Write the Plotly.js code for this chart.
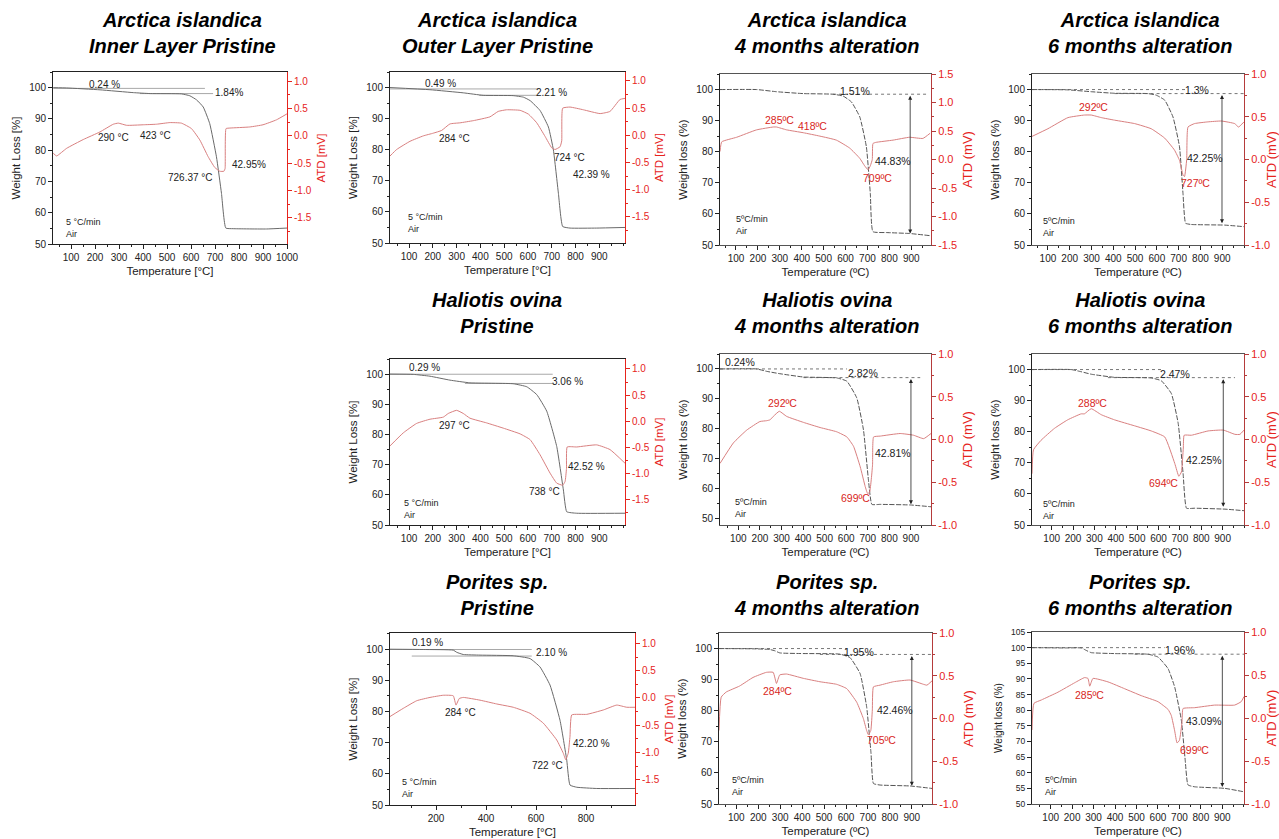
<!DOCTYPE html>
<html><head><meta charset="utf-8">
<script src="https://cdn.plot.ly/plotly-3.0.1.min.js"></script>
<style>html,body{margin:0;padding:0;background:#fff}#chart{width:1279px;height:839px}</style>
</head><body><div id="chart"></div>
<script>
// ---------- tick values ----------
const tempTicks = [100,200,300,400,500,600,700,800,900];
const tempTicks1000 = [100,200,300,400,500,600,700,800,900,1000];
const tempTicks200 = [200,400,600,800];
const wlTicks10 = [50,60,70,80,90,100];
const wlTicks5 = [50,55,60,65,70,75,80,85,90,95,100,105];
const atdTicksWide = [-1.5,-1,-0.5,0,0.5,1];
const atdTicks15 = [-1.5,-1,-0.5,0,0.5,1,1.5];
const atdTicks1 = [-1,-0.5,0,0.5,1];

// ---------- P1 Arctica islandica inner layer pristine ----------
const p1TgT = [26,82,221,360,430,560,595,623,651,678,706,727,745,775,914,1000];
const p1Tg  = [100,99.9,99.3,98.4,98.1,98,97.4,96.1,93.8,88.5,77.9,66.2,55.1,54.9,54.8,55.1];
const p1DtaT = [26,40,82,151,221,276,297,332,401,456,512,560,602,637,671,699,720,737,742,746,762,845,900,956,1000];
const p1Dta  = [-0.32,-0.37,-0.23,-0.07,0.07,0.21,0.23,0.19,0.2,0.21,0.24,0.23,0.13,-0.08,-0.38,-0.58,-0.65,-0.65,-0.6,0.13,0.14,0.16,0.2,0.29,0.4];
const p1RefFrom = [26,387], p1RefTo = [658,692], p1RefLevel = [99.76,98.1];
const p1Labels = ['0.24 %','1.84%','290 °C','423 °C','726.37 °C','42.95%'];

// ---------- P2 Arctica islandica outer layer pristine ----------
const p2TgT = [20,188,328,412,538,581,609,651,686,707,728,746,777,889,1008];
const p2Tg  = [100,99.3,98.3,97.5,97.4,96.9,95.8,92.6,87.3,79.9,66,55.3,54.8,54.8,55];
const p2DtaT = [20,48,104,160,202,237,272,314,370,440,475,510,567,602,637,672,700,714,735,742,746,777,833,903,945,987,1008];
const p2Dta  = [-0.38,-0.26,-0.11,-0.01,0.04,0.09,0.21,0.23,0.27,0.34,0.44,0.47,0.46,0.39,0.23,-0.02,-0.23,-0.26,-0.21,-0.1,0.5,0.52,0.47,0.4,0.44,0.66,0.68];
const p2RefFrom = [20,395], p2RefTo = [644,644], p2RefLevel = [99.55,97.5];
const p2Labels = ['0.49 %','2.21 %','284 °C','724 °C','42.39 %'];

// ---------- P3 Arctica islandica 4 months ----------
const p3TgT = [27,194,285,407,543,589,627,665,695,713,725,786,892,986];
const p3Tg  = [100,100,99.3,98.7,98.5,97.9,96,91.2,81.6,66.6,54.3,54,53.7,53];
const p3DtaT = [27,35,103,194,270,285,331,407,483,558,619,665,687,703,713,722,725,738,817,892,953,986];
const p3Dta  = [0.14,0.31,0.39,0.52,0.57,0.57,0.52,0.47,0.41,0.34,0.2,0.02,-0.11,-0.18,-0.11,0,0.28,0.3,0.34,0.39,0.37,0.46];
const p3RefFrom = [543], p3RefTo = [968], p3RefLevel = [98.5];
const p3Arrow = [895,98.5,53.7];
const p3Labels = ['1.51%','285ºC','418ºC','709ºC','44.83%'];

// ---------- P4 Arctica islandica 6 months ----------
const p4TgT = [27,192,299,406,559,597,636,674,704,720,732,758,911,1000];
const p4Tg  = [100,99.9,99.3,98.8,98.7,98.2,96.6,91.2,81.6,66.6,57,56.6,56.4,55.9];
const p4DtaT = [27,100,192,268,299,345,406,498,574,636,681,704,720,727,737,743,773,834,896,957,975,1000];
const p4Dta  = [0.27,0.36,0.49,0.52,0.52,0.49,0.46,0.42,0.36,0.25,0.11,-0.01,-0.18,-0.2,0,0.38,0.42,0.44,0.45,0.42,0.38,0.44];
const p4RefFrom = [27,406], p4RefTo = [743,1000], p4RefLevel = [100,98.7];
const p4Arrow = [899,98.7,57];
const p4Labels = ['1.3%','292ºC','727ºC','42.25%'];

// ---------- P5 Haliotis ovina pristine ----------
const p5TgT = [20,118,188,272,356,538,595,637,679,721,749,763,805,1008];
const p5Tg  = [100,99.9,99.3,98,97.1,96.8,95.8,93.2,87.7,76,61.6,54.4,53.9,53.9];
const p5DtaT = [20,76,132,188,244,265,300,328,356,426,496,567,609,651,693,721,746,756,762,765,805,889,945,1008];
const p5Dta  = [-0.47,-0.22,-0.04,0.04,0.08,0.15,0.21,0.15,0.06,-0.03,-0.13,-0.24,-0.35,-0.64,-0.99,-1.18,-1.22,-1.15,-0.9,-0.49,-0.49,-0.45,-0.54,-0.8];
const p5RefFrom = [20,335], p5RefTo = [704,704], p5RefLevel = [99.95,96.9];
const p5Labels = ['0.29 %','3.06 %','297 °C','738 °C','42.52 %'];

// ---------- P6 Haliotis ovina 4 months ----------
const p6TgT = [15,185,231,293,402,556,603,649,680,703,719,758,897,993];
const p6Tg  = [100,100,99.2,98.4,97.3,97,95.9,90.3,79.6,62.9,54.7,54.7,54.5,53.9];
const p6DtaT = [15,77,139,200,231,247,262,290,324,402,479,556,603,634,665,688,699,708,722,727,758,850,912,959,993];
const p6Dta  = [-0.28,-0.04,0.11,0.21,0.22,0.23,0.27,0.33,0.27,0.2,0.14,0.09,0.03,-0.08,-0.32,-0.55,-0.63,-0.62,-0.3,0.03,0.04,0.07,0.05,0.01,0.07];
const p6RefFrom = [15,402], p6RefTo = [603,943], p6RefLevel = [100,97.1];
const p6Arrow = [900,97.1,54.7];
const p6Labels = ['0.24%','2.82%','292ºC','699ºC','42.81%'];

// ---------- P7 Haliotis ovina 6 months ----------
const p7TgT = [8,191,238,285,394,566,613,660,692,715,731,770,911,1000];
const p7Tg  = [100,100,99.3,98.5,97.5,97.3,96.4,92.3,82.7,66.6,55.4,55.4,55.1,54.6];
const p7DtaT = [8,15,50,113,175,238,253,285,332,394,488,566,629,676,695,707,716,720,754,832,903,958,981,1000];
const p7Dta  = [-0.4,-0.12,-0.01,0.13,0.23,0.3,0.3,0.36,0.29,0.23,0.16,0.1,0.03,-0.28,-0.43,-0.38,-0.1,0.05,0.05,0.1,0.11,0.06,0.06,0.11];
const p7RefFrom = [8,363], p7RefTo = [613,958], p7RefLevel = [100,97.4];
const p7Arrow = [903,97.4,55.9];
const p7Labels = ['2.47%','288ºC','694ºC','42.25%'];

// ---------- P8 Porites sp. pristine ----------
const p8TgT = [16,149,269,283,309,376,509,576,616,656,696,723,736,763,843,996];
const p8Tg  = [100,99.9,99.7,99,98.3,98.1,97.9,97,94.3,88.5,77.2,64.4,56.4,55.7,55.3,55.3];
const p8DtaT = [16,69,123,176,229,269,280,293,309,376,443,509,576,629,683,709,719,729,736,743,803,869,923,963,996];
const p8Dta  = [-0.34,-0.19,-0.05,0.01,0.05,0.04,-0.13,-0.01,0.01,-0.04,-0.11,-0.17,-0.28,-0.46,-0.77,-1.01,-1.13,-1.01,-0.7,-0.31,-0.3,-0.22,-0.13,-0.17,-0.17];
const p8RefFrom = [16,103], p8RefTo = [583,583], p8RefLevel = [99.9,97.8];
const p8Labels = ['0.19 %','2.10 %','284 °C','722 °C','42.20 %'];

// ---------- P9 Porites sp. 4 months ----------
const p9TgT = [21,191,252,275,298,390,572,618,664,694,714,725,755,892,992];
const p9Tg  = [100,99.9,99.7,99.3,98.6,98.4,98.2,97.1,92,81.3,66.3,56.6,56.1,55.8,55];
const p9DtaT = [21,31,54,115,176,237,268,283,298,329,405,481,557,603,649,679,694,702,713,720,725,755,816,892,953,969,992];
const p9Dta  = [-0.14,0.25,0.31,0.38,0.48,0.54,0.54,0.41,0.51,0.52,0.47,0.43,0.4,0.35,0.19,0,-0.14,-0.19,-0.14,0.1,0.37,0.39,0.43,0.45,0.4,0.39,0.44];
const p9RefFrom = [21,481], p9RefTo = [603,992], p9RefLevel = [100,98.1];
const p9Arrow = [900,98.1,55.9];
const p9Labels = ['1.95%','284ºC','705ºC','42.46%'];

// ---------- P10 Porites sp. 6 months ----------
const p10TgT = [13,165,243,266,289,398,553,600,647,678,709,727,740,771,911,1001];
const p10Tg  = [100,99.9,99.9,99.1,98.4,98.1,97.9,97,93.3,87.4,76.8,64,56.1,55.5,55,53.9];
const p10DtaT = [13,22,57,134,212,258,274,282,297,367,445,522,600,647,662,678,689,700,712,717,771,864,957,988,1001];
const p10Dta  = [-0.14,0.17,0.21,0.3,0.41,0.47,0.46,0.37,0.46,0.42,0.34,0.26,0.19,0.1,0.03,-0.15,-0.29,-0.26,-0.05,0.11,0.12,0.15,0.15,0.19,0.25];
const p10RefFrom = [13,491], p10RefTo = [631,1001], p10RefLevel = [100,97.9];
const p10Arrow = [900,97.9,55.4];
const p10Labels = ['1.96%','285ºC','699ºC','43.09%'];

// ---------- panel configuration (layout/styling) ----------
const W = 1279, H = 839;
const FONT = '"Liberation Sans", Arial, Helvetica, sans-serif';
const RED = '#e6241d', DTA_COL = '#d98080', TG_COL = '#6a6a6a';

const panels = [
 {k:1, t1:'Arctica islandica', t2:'Inner Layer Pristine', tx:183, ty:7, box:[53,287,72,244],
  xr:[25,1000], yr:[50,105], y2r:[-1.98,1.165], xt:tempTicks1000, yt:wlTicks10, y2t:atdTicksWide, alt:false,
  T:p1TgT, TG:p1Tg, DT:p1DtaT, DTA:p1Dta, rf:p1RefFrom, rt:p1RefTo, rl:p1RefLevel,
  lab:p1Labels, pos:[[241,101.0],[759,98.5],[279,83.9],[454,84.7],[598,71.3],[842,75.5]], red:[], rate:[72,55.2]},
 {k:2, t1:'Arctica islandica', t2:'Outer Layer Pristine', tx:497, ty:7, box:[390,625,72,243],
  xr:[20,1008], yr:[50,105], y2r:[-1.98,1.165], xt:tempTicks, yt:wlTicks10, y2t:atdTicksWide, alt:false,
  T:p2TgT, TG:p2Tg, DT:p2DtaT, DTA:p2Dta, rf:p2RefFrom, rt:p2RefTo, rl:p2RefLevel,
  lab:p2Labels, pos:[[234,101.2],[700,98.5],[290,83.6],[774,77.6],[868,71.9]], red:[], rate:[87,56.5]},
 {k:3, t1:'Arctica islandica', t2:'4 months alteration', tx:826, ty:7, box:[720,931,74,245],
  xr:[27,990], yr:[50,105], y2r:[-1.5,1.5], xt:tempTicks, yt:wlTicks10, y2t:atdTicks15, alt:true,
  T:p3TgT, TG:p3Tg, DT:p3DtaT, DTA:p3Dta, rf:p3RefFrom, rt:p3RefTo, rl:p3RefLevel, arrow:p3Arrow,
  lab:p3Labels, pos:[[642,99.4],[297,90.1],[449,88.2],[748,71.7],[816,77]], red:[1,2,3], rate:[91,56.4]},
 {k:4, t1:'Arctica islandica', t2:'6 months alteration', tx:1140, ty:7, box:[1032,1244,74,245],
  xr:[27,1000], yr:[50,105], y2r:[-1,1], xt:tempTicks, yt:wlTicks10, y2t:atdTicks1, alt:true,
  T:p4TgT, TG:p4Tg, DT:p4DtaT, DTA:p4Dta, rf:p4RefFrom, rt:p4RefTo, rl:p4RefLevel, arrow:p4Arrow,
  lab:p4Labels, pos:[[785,99.8],[311,94.5],[778,70],[819,78.1]], red:[1,2], rate:[69,55.8]},
 {k:5, t1:'Haliotis ovina', t2:'Pristine', tx:497, ty:287, box:[390,625,359,525],
  xr:[20,1008], yr:[50,105], y2r:[-1.98,1.19], xt:tempTicks, yt:wlTicks10, y2t:atdTicksWide, alt:false,
  T:p5TgT, TG:p5Tg, DT:p5DtaT, DTA:p5Dta, rf:p5RefFrom, rt:p5RefTo, rl:p5RefLevel,
  lab:p5Labels, pos:[[164,102.1],[765,97.7],[293,83.1],[669,61.1],[847,69.3]], red:[], rate:[72,55.4]},
 {k:6, t1:'Haliotis ovina', t2:'4 months alteration', tx:826, ty:287, box:[720,931,354,525],
  xr:[15,993], yr:[47.8,105], y2r:[-1,1], xt:tempTicks, yt:wlTicks10, y2t:atdTicks1, alt:true,
  T:p6TgT, TG:p6Tg, DT:p6DtaT, DTA:p6Dta, rf:p6RefFrom, rt:p6RefTo, rl:p6RefLevel, arrow:p6Arrow,
  lab:p6Labels, pos:[[108,102.2],[680,98.7],[304,88.6],[641,56.7],[819,71.8]], red:[2,3], rate:[77,53.5]},
 {k:7, t1:'Haliotis ovina', t2:'6 months alteration', tx:1140, ty:287, box:[1032,1244,354,525],
  xr:[8,1000], yr:[50,105], y2r:[-1,1], xt:tempTicks, yt:wlTicks10, y2t:atdTicks1, alt:true,
  T:p7TgT, TG:p7Tg, DT:p7DtaT, DTA:p7Dta, rf:p7RefFrom, rt:p7RefTo, rl:p7RefLevel, arrow:p7Arrow,
  lab:p7Labels, pos:[[676,98.7],[292,89.1],[621,63.4],[814,71]], red:[1,2], rate:[50,54.7]},
 {k:8, t1:'Porites sp.', t2:'Pristine', tx:497, ty:569, box:[390,635,633,805],
  xr:[16,996], yr:[50,105.2], y2r:[-1.96,1.19], xt:tempTicks200, yt:wlTicks10, y2t:atdTicksWide, alt:false,
  T:p8TgT, TG:p8Tg, DT:p8DtaT, DTA:p8Dta, rf:p8RefFrom, rt:p8RefTo, rl:p8RefLevel,
  lab:p8Labels, pos:[[165,102.1],[663,98.8],[296,79.6],[647,62.7],[823,69.8]], red:[], rate:[56,55.6], minorX:100},
 {k:9, t1:'Porites sp.', t2:'4 months alteration', tx:826, ty:569, box:[719,932,633,804],
  xr:[21,992], yr:[50,105], y2r:[-1,1], xt:tempTicks, yt:wlTicks10, y2t:atdTicks1, alt:true,
  T:p9TgT, TG:p9Tg, DT:p9DtaT, DTA:p9Dta, rf:p9RefFrom, rt:p9RefTo, rl:p9RefLevel, arrow:p9Arrow,
  lab:p9Labels, pos:[[661,98.9],[286,86.3],[763,70.6],[824,80.2]], red:[1,2], rate:[70,55.7]},
 {k:10, t1:'Porites sp.', t2:'6 months alteration', tx:1140, ty:569, box:[1032,1244,632,804],
  xr:[13,1001], yr:[50,105], y2r:[-1,1], xt:tempTicks, yt:wlTicks5, y2t:atdTicks1, alt:true, small:true,
  T:p10TgT, TG:p10Tg, DT:p10DtaT, DTA:p10Dta, rf:p10RefFrom, rt:p10RefTo, rl:p10RefLevel, arrow:p10Arrow,
  lab:p10Labels, pos:[[701,99.1],[282,84.8],[771,67.2],[814,76.6]], red:[1,2], rate:[64,55.8]}
];

function nm(prefix, n){ return n === 1 ? prefix : prefix + n; }
function key(prefix, n){ return n === 1 ? prefix + 'axis' : prefix + 'axis' + n; }

const traces = [];
const layout = {
  width: W, height: H, margin: {l:0, r:0, t:0, b:0},
  paper_bgcolor: '#fff', plot_bgcolor: 'rgba(0,0,0,0)',
  showlegend: false, hovermode: false,
  font: {family: FONT, color: '#222', size: 10},
  annotations: []
};

panels.forEach(p => {
  const xk = p.k, yl = 2*p.k - 1, yr = 2*p.k;
  const xn = nm('x', xk), yln = nm('y', yl), yrn = nm('y', yr);
  const [l, r, t, b] = p.box;
  const tickF = p.small ? 8.5 : 10;
  const axRed = p.alt ? '#b53b3b' : RED;

  layout[key('x', xk)] = {
    domain: [l/W, r/W], range: p.xr, anchor: yln,
    tickmode: 'array', tickvals: p.xt, ticks: 'outside', ticklen: 4, tickwidth: 1, tickcolor: '#222',
    showline: true, linecolor: p.alt ? '#555' : '#222', linewidth: 1, mirror: true,
    showgrid: false, zeroline: false, tickfont: {size: 10, color: '#222'},
    minor: {ticks: 'outside', ticklen: 2, tickcolor: '#222', dtick: p.minorX || 50, tick0: 0, showgrid: false},
    title: {text: p.alt ? 'Temperature (ºC)' : 'Temperature [°C]', font: {size: 11.5, color: '#222'}, standoff: 4}
  };
  layout[key('y', yl)] = {
    domain: [1 - b/H, 1 - t/H], range: p.yr, anchor: xn,
    tickmode: 'array', tickvals: p.yt, ticks: 'outside', ticklen: 4, tickwidth: 1, tickcolor: '#222',
    showline: true, linecolor: '#222', linewidth: 1,
    showgrid: false, zeroline: false, tickfont: {size: tickF, color: '#222'},
    minor: p.small ? undefined : {ticks: 'outside', ticklen: 2, tickcolor: '#222', dtick: 5, tick0: 0, showgrid: false},
    title: {text: p.alt ? 'Weight loss (%)' : 'Weight Loss [%]', font: {size: p.small ? 10 : 11.5, color: '#222'}, standoff: 6}
  };
  layout[key('y', yr)] = {
    overlaying: yln, side: 'right', anchor: xn, range: p.y2r,
    tickmode: 'array', tickvals: p.y2t, ticktext: p.y2t.map(v => v.toFixed(1)),
    ticks: 'outside', ticklen: 4, tickwidth: 1, tickcolor: axRed,
    showline: true, linecolor: axRed, linewidth: 1,
    showgrid: false, zeroline: false, tickfont: {size: p.alt ? 11 : 10, color: RED},
    minor: {ticks: 'outside', ticklen: 2, tickcolor: axRed, dtick: 0.25, tick0: 0, showgrid: false},
    title: {text: p.alt ? 'ATD (mV)' : 'ATD [mV]', font: {size: p.alt ? 13 : 11.5, color: RED}, standoff: 6}
  };

  // reference lines
  p.rf.forEach((x0, i) => {
    traces.push({type: 'scatter', mode: 'lines', x: [x0, p.rt[i]], y: [p.rl[i], p.rl[i]],
      xaxis: xn, yaxis: yln, line: {color: p.alt ? '#777' : '#a8a8a8', width: 1, dash: p.alt ? 'dot' : 'solid'}, hoverinfo: 'skip'});
  });
  // DTA curve
  traces.push({type: 'scatter', mode: 'lines', x: p.DT, y: p.DTA, xaxis: xn, yaxis: yrn,
    line: {color: DTA_COL, width: 1, shape: 'spline', smoothing: 0.4}, hoverinfo: 'skip'});
  // TG curve
  traces.push({type: 'scatter', mode: 'lines', x: p.T, y: p.TG, xaxis: xn, yaxis: yln,
    line: {color: p.alt ? '#555' : TG_COL, width: 1, dash: p.alt ? '5px,1.5px' : 'solid', shape: 'spline', smoothing: 0.4}, hoverinfo: 'skip'});

  // panel title
  layout.annotations.push({xref: 'paper', yref: 'paper', x: p.tx/W, y: 1 - p.ty/H, xanchor: 'center', yanchor: 'top',
    showarrow: false, text: '<b><i>' + p.t1 + '</i></b><br><b><i>' + p.t2 + '</i></b>',
    font: {family: FONT, size: 20, color: '#000'}});
  // labels
  p.lab.forEach((txt, i) => {
    const isRed = p.red.indexOf(i) >= 0;
    layout.annotations.push({xref: xn, yref: yln, x: p.pos[i][0], y: p.pos[i][1], showarrow: false,
      xanchor: 'center', yanchor: 'middle', text: txt,
      font: {family: FONT, size: p.alt ? 10.5 : 10, color: isRed ? '#d8261c' : '#222'}});
  });
  // heating rate
  layout.annotations.push({xref: xn, yref: yln, x: p.rate[0], y: p.rate[1], showarrow: false,
    xanchor: 'left', yanchor: 'middle', align: 'left',
    text: (p.alt ? '5ºC/min' : '5 °C/min') + '<br>Air', font: {family: FONT, size: 9, color: '#222'}});
  // arrow
  if (p.arrow) {
    layout.annotations.push({xref: xn, yref: yln, axref: xn, ayref: yln,
      x: p.arrow[0], y: p.arrow[2], ax: p.arrow[0], ay: p.arrow[1], text: '',
      showarrow: true, arrowside: 'end+start', arrowhead: 2, arrowsize: 1, arrowwidth: 0.8, arrowcolor: '#222'});
  }
});

Plotly.newPlot('chart', traces, layout, {staticPlot: true, displayModeBar: false});
</script>
</body></html>
